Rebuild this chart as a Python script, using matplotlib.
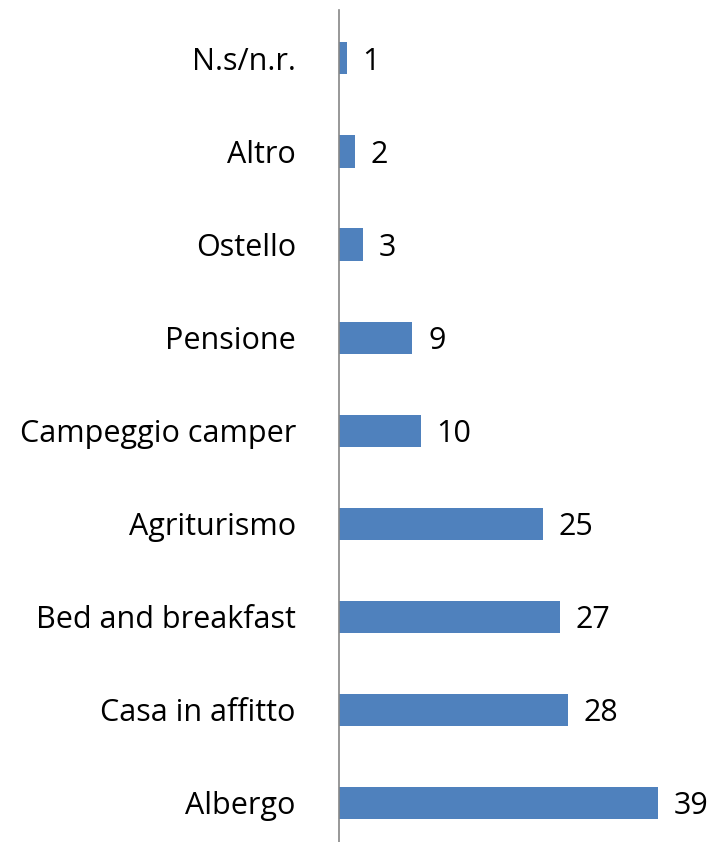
import matplotlib.pyplot as plt

categories = ['Albergo', 'Casa in affitto', 'Bed and breakfast', 'Agriturismo',
              'Campeggio camper', 'Pensione', 'Ostello', 'Altro', 'N.s/n.r.']
values = [39, 28, 27, 25, 10, 9, 3, 2, 1]

plt.rcParams['font.family'] = ['Open Sans', 'DejaVu Sans']

fig = plt.figure(figsize=(7.15, 8.42), dpi=100)
ax = fig.add_axes([0.474, 0.0, 0.526, 832 / 842])

pos = list(range(len(categories)))
ax.barh(pos, values, height=0.345, color='#4F81BD')

for p, v in zip(pos, values):
    ax.text(v + 1.9, p, str(v), va='center_baseline', ha='left', fontsize=22)

ax.set_yticks(pos)
ax.set_yticklabels(categories, fontsize=22, va='center_baseline')
ax.tick_params(axis='y', length=0, pad=31)
ax.set_xticks([])
ax.set_xlim(0, 46)
ax.set_ylim(-0.42, 8.52)

for s in ['top', 'right', 'bottom']:
    ax.spines[s].set_visible(False)
ax.spines['left'].set_color('#868686')
ax.spines['left'].set_linewidth(1.2)

fig.savefig('out.png', dpi=100)
